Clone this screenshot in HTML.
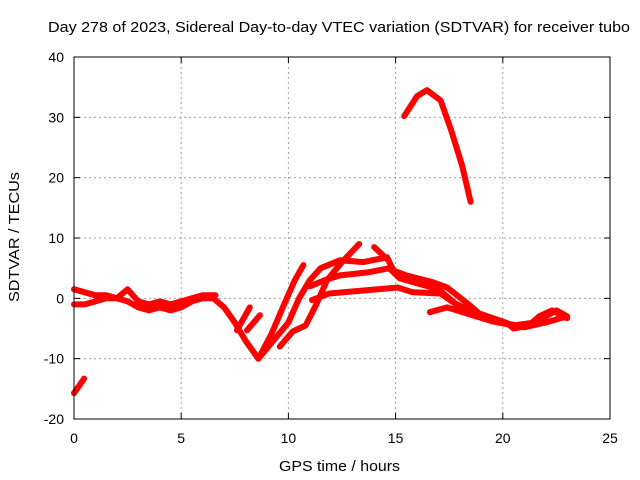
<!DOCTYPE html>
<html><head><meta charset="utf-8"><style>
html,body{margin:0;padding:0;background:#fff;}
svg{display:block;font-family:"Liberation Sans",Arial,sans-serif;}
</style></head><body>
<svg id="chart" width="640" height="480">
<text x="48" y="32" font-size="15" textLength="582" lengthAdjust="spacingAndGlyphs">Day 278 of 2023, Sidereal Day-to-day VTEC variation (SDTVAR) for receiver tubo</text>
<text x="279" y="471" font-size="15" textLength="121" lengthAdjust="spacingAndGlyphs">GPS time / hours</text>
<text x="0" y="0" font-size="15" textLength="130" lengthAdjust="spacingAndGlyphs" transform="translate(19 302) rotate(-90)">SDTVAR / TECUs</text>
<g id="grid"></g>
<g id="ticks"></g>
<g id="series"></g>
<rect x="74" y="57" width="536" height="362" fill="none" stroke="#000" stroke-width="1"/>
</svg>
<script>
const xTicks=[0,5,10,15,20,25];
const yTicks=[-20,-10,0,10,20,30,40];
const s1H=[0,0.5,1,1.5,2,2.5,3,3.5,4,4.5,5,5.5,6,6.6];
const s1V=[1.5,1,0.5,0.5,0,1.5,-0.5,-1,-0.5,-1,-0.5,0,0.5,0.5];
const s2H=[0,0.5,1,1.5,2,2.5,3,3.5,4,4.5,5,5.5,6,6.5];
const s2V=[-1,-1,-0.5,0,0,-0.5,-1.5,-2,-1.5,-2,-1.5,-0.5,0,0];
const s3H=[6.5,7,7.5,8,8.6,9.2,9.8,10.3,10.7];
const s3V=[0,-1.5,-4,-7,-10,-6,-1,3,5.5];
const s3bH=[7.6,8.2];
const s3bV=[-5.3,-1.5];
const s3cH=[8.07,8.67];
const s3cV=[-5.3,-2.8];
const s4H=[9.6,10.2,10.8,11.3,11.8,12.5,13.3];
const s4V=[-8,-5.5,-4.5,-1,3,6,9];
const s5H=[8.6,9.3,10,10.5,11,11.5,12.4,13.5,14.6,14.9,15.5,16.7,17.4,18.3,18.9,20.2,20.5,21.2,21.7,22.3,23];
const s5V=[-10,-7,-4,0,3,5,6.3,6,6.8,4.6,3.8,2.7,1.8,-0.7,-2.5,-4.1,-5,-4.5,-3,-2,-3.3];
const s6H=[11,11.7,12.4,13.7,14.7,15.2,16,17,18,19,20,21,22,23];
const s6V=[2,3,3.8,4.3,5,3.3,2.5,1.5,-1.5,-3,-4,-4.8,-4,-3];
const s7H=[11.1,11.9,13.5,15.1,15.8,17.1,17.7,18.6,19.5,20.5,21.5,22.5,23];
const s7V=[-0.3,0.8,1.3,1.8,1,0.8,-0.7,-2.3,-3.5,-4.5,-4,-2,-3];
const s8H=[16.6,17.4,18.3,19.5,20.5];
const s8V=[-2.3,-1.5,-2.5,-3.8,-4.5];
const s9H=[15.4,16,16.46,17.1,17.6,18.1,18.5];
const s9V=[30.2,33.5,34.5,32.8,27.8,22,16];
const s10H=[0,0.47];
const s10V=[-15.7,-13.3];
const s11H=[14.0,14.6];
const s11V=[8.5,6.5];
const seriesH=[s1H,s2H,s3H,s3bH,s3cH,s4H,s5H,s6H,s7H,s8H,s9H,s10H,s11H];
const seriesV=[s1V,s2V,s3V,s3bV,s3cV,s4V,s5V,s6V,s7V,s8V,s9V,s10V,s11V];
const X0=74,X1=610,Y0=419,Y1=57;
function sx(h){return X0+(h-0)/(25-0)*(X1-X0);}
function sy(v){return Y0-(v+20)/(60)*(Y0-Y1);}
const NS='http://www.w3.org/2000/svg';
const grid=document.getElementById('grid'),ticks=document.getElementById('ticks'),ser=document.getElementById('series');
function mk(t,a,p){const e=document.createElementNS(NS,t);for(const k in a)e.setAttribute(k,a[k]);p.appendChild(e);return e;}
xTicks.forEach(t=>{
 const x=sx(t);
 if(t>0&&t<25){const g=mk('line',{x1:x,x2:x,y1:Y1,y2:Y0,stroke:'#a0a0a0','stroke-dasharray':'2,3'},grid);
 
 }
 mk('line',{x1:x,x2:x,y1:Y0,y2:Y0-6,stroke:'#000'},ticks);
 mk('line',{x1:x,x2:x,y1:Y1,y2:Y1+6,stroke:'#000'},ticks);
 const l=mk('text',{x:x,y:Y0+24,'font-size':14,'text-anchor':'middle'},ticks);l.textContent=t;
 
 
});
yTicks.forEach(t=>{
 const y=sy(t);
 if(t>-20&&t<40){const g=mk('line',{x1:X0,x2:X1,y1:y,y2:y,stroke:'#a0a0a0','stroke-dasharray':'2,3'},grid);
 
 }
 mk('line',{x1:X0,x2:X0+6,y1:y,y2:y,stroke:'#000'},ticks);
 mk('line',{x1:X1,x2:X1-6,y1:y,y2:y,stroke:'#000'},ticks);
 const l=mk('text',{x:X0-10,y:y+5,'font-size':14,'text-anchor':'end'},ticks);l.textContent=t;
 
 
});
seriesH.forEach((hs,i)=>{
 const vs=seriesV[i];
 const pts=hs.map((h,j)=>sx(h).toFixed(1)+','+sy(vs[j]).toFixed(1)).join(' ');
 const p=mk('polyline',{points:pts,fill:'none',stroke:'#ff0000','stroke-width':6,'stroke-linejoin':'round','stroke-linecap':'round'},ser);
 
 
});
</script>
</body></html>
